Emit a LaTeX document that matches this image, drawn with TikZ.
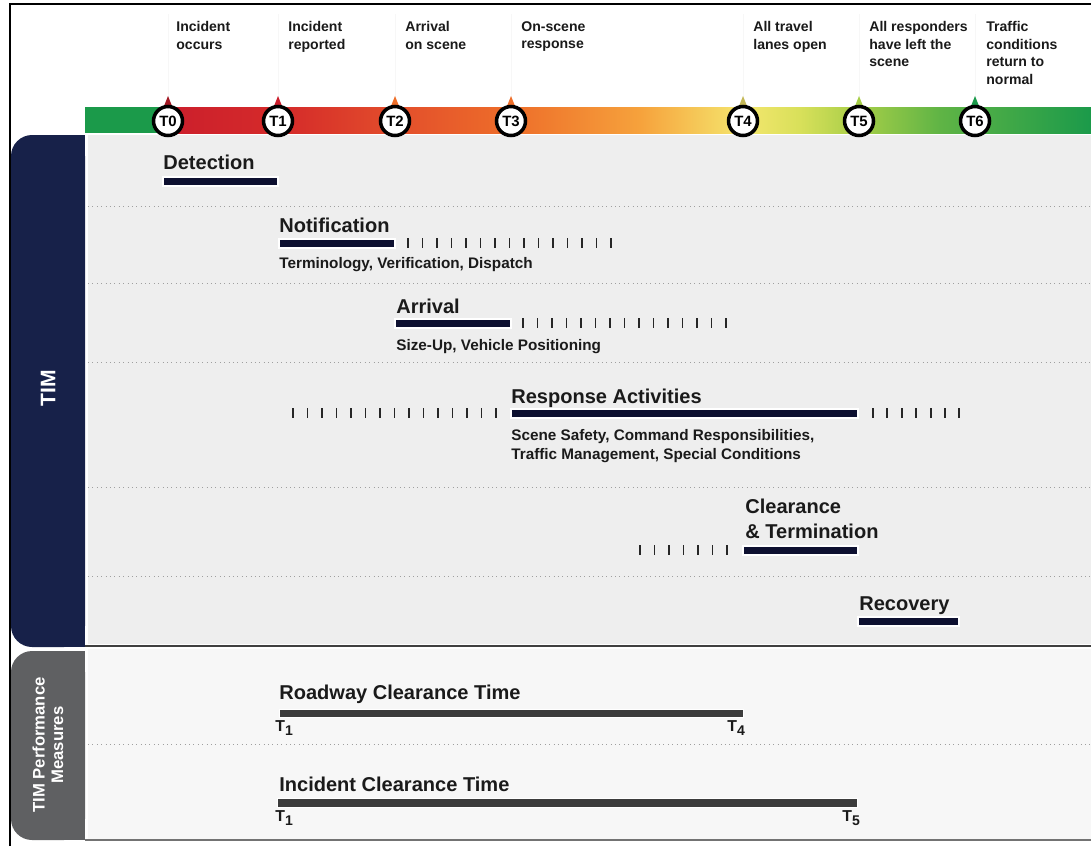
\documentclass[tikz,border=0pt]{standalone}
\usepackage{fontspec}
\setmainfont{Liberation Sans}

\definecolor{timnavy}{HTML}{172149}
\definecolor{barnavy}{HTML}{0D1030}
\definecolor{panelgray}{HTML}{EEEEEE}
\definecolor{lowpanel}{HTML}{F7F7F7}
\definecolor{tabgray}{HTML}{5F6062}
\definecolor{measgray}{HTML}{3C3C3C}
\definecolor{inkblack}{HTML}{1A1A1A}
\definecolor{cgreen}{HTML}{1B9A4A}
\definecolor{cred}{HTML}{CB1E2C}
\definecolor{cred2}{HTML}{D52B2A}
\definecolor{cred3}{HTML}{E34F2B}
\definecolor{corange}{HTML}{EE6F2A}
\definecolor{clorange}{HTML}{F6A23C}
\definecolor{cyellow}{HTML}{F5E66E}
\definecolor{cyelgreen}{HTML}{D8E05A}
\definecolor{clime}{HTML}{A6CE48}
\definecolor{cmidgreen}{HTML}{5FB445}

\tikzset{
  toplabel/.style={anchor=north west, align=left, inner sep=0pt, text=inkblack,
    font=\fontsize{8}{10}\selectfont\bfseries},
  phasename/.style={anchor=base west, inner sep=0pt, text=inkblack,
    font=\fontsize{11.4}{13}\selectfont\bfseries},
  phasenote/.style={anchor=base west, inner sep=0pt, text=inkblack,
    font=\fontsize{8.7}{10}\selectfont\bfseries},
  phasebar/.style={fill=barnavy, draw=white, line width=0.6pt},
  measbar/.style={fill=measgray, draw=white, line width=0.5pt},
  ticmark/.style={line width=1.1pt, black!85},
  tmark/.style={circle, draw=black, line width=2pt, fill=white, minimum size=16.5pt,
    inner sep=0pt, font=\fontsize{8.5}{9}\selectfont\bfseries},
  rowline/.style={gray!75, dotted, line width=0.5pt},
  guide/.style={black!3, line width=0.4pt},
  tsub/.style={anchor=north west, inner sep=0pt, text=inkblack,
    font=\fontsize{9}{10}\selectfont\bfseries},
  tablabel/.style={rotate=90, text=white, align=center, inner sep=0pt},
}

\newcommand{\tsubs}[1]{T\raisebox{-0.45ex}{\fontsize{8}{8}\selectfont #1}}

\begin{document}
\begin{tikzpicture}[x=0.02cm,y=-0.02cm]
\useasboundingbox (0,0) rectangle (1091,846);

% frame
\draw[line width=0.9pt] (10,846) -- (10,4) -- (1091,4);

% faint guides from the labels down to the timeline
\foreach \x in {168,278,395,511,743,859,975}
  \draw[guide] (\x,14) -- (\x,97);

% timeline colour bar
\fill[cgreen] (85,107) rectangle (160,133);
\shade[left color=cred, right color=cred2] (160,107) rectangle (285,133);
\shade[left color=cred2, right color=cred3] (285,107) rectangle (400,133);
\shade[left color=cred3, right color=corange] (400,107) rectangle (515,133);
\shade[left color=corange, right color=clorange] (515,107) rectangle (640,133);
\shade[left color=clorange, right color=cyellow] (640,107) rectangle (743,133);
\shade[left color=cyellow, right color=cyelgreen] (743,107) rectangle (800,133);
\shade[left color=cyelgreen, right color=clime] (800,107) rectangle (859,133);
\shade[left color=clime, right color=cmidgreen] (859,107) rectangle (940,133);
\shade[left color=cmidgreen, right color=cgreen] (940,107) rectangle (1091,133);

% small pointers above the marks
\foreach \x/\c in {168/cred!80!black,278/cred,395/corange,511/corange,743/cyellow!80!black,859/clime,975/cgreen}
  \fill[\c] (\x-4,106) -- (\x,96) -- (\x+4,106) -- cycle;

% event labels
\node[toplabel] (lab0) at (176,21) {Incident\\occurs};
\node[toplabel] (lab1) at (288,21) {Incident\\reported};
\node[toplabel] (lab2) at (405,21) {Arrival\\on scene};
\node[toplabel] (lab3) at (521,21) {On-scene\\response};
\node[toplabel] (lab4) at (753,21) {All travel\\lanes open};
\node[toplabel] (lab5) at (869,21) {All responders\\have left the\\scene};
\node[toplabel] (lab6) at (986,21) {Traffic\\conditions\\return to\\normal};

% panels
\fill[panelgray] (88,135) rectangle (1091,644);
\fill[lowpanel] (88,649) rectangle (1091,839);
\foreach \y in {206,283,362,487,576}
  \draw[rowline] (88,\y) -- (1091,\y);
\draw[rowline] (88,744) -- (1091,744);
\draw[line width=1.1pt, black!75] (85,646) -- (1091,646);
\draw[line width=1.4pt, black!55] (85,840) -- (1091,840);

% side tabs
\fill[timnavy, rounded corners=12pt] (11,135) rectangle (85,647);
\fill[timnavy] (60,135) rectangle (85,647);
\fill[tabgray, rounded corners=12pt] (11,651) rectangle (85,840);
\fill[tabgray] (60,651) rectangle (85,840);
\node[tablabel, font=\fontsize{12}{14}\selectfont\bfseries] (tim) at (48,388) {TIM};
\node[tablabel, font=\fontsize{9.5}{10.5}\selectfont\bfseries] (perf) at (48,745)
  {TIM Performance\\Measures};

% time marks
\node[tmark] (t0) at (168,121) {T0};
\node[tmark] (t1) at (278,121) {T1};
\node[tmark] (t2) at (395,121) {T2};
\node[tmark] (t3) at (511,121) {T3};
\node[tmark] (t4) at (743,121) {T4};
\node[tmark] (t5) at (859,121) {T5};
\node[tmark] (t6) at (975,121) {T6};

% Detection
\node[phasename] (detect) at (163,169) {Detection};
\fill[phasebar] (163,177) rectangle (278,186);

% Notification
\node[phasename] (notify) at (279,232) {Notification};
\fill[phasebar] (279,239) rectangle (395,248);
\foreach \i in {0,...,14}
  \draw[ticmark] ({408+14.5*\i},238) -- ++(0,10);
\node[phasenote] (notifynote) at (279,268) {Terminology, Verification, Dispatch};

% Arrival
\node[phasename] (arrive) at (396,313) {Arrival};
\fill[phasebar] (395,319) rectangle (511,328);
\foreach \i in {0,...,14}
  \draw[ticmark] ({523+14.5*\i},318) -- ++(0,10);
\node[phasenote] (arrivenote) at (396,350) {Size-Up, Vehicle Positioning};

% Response Activities
\node[phasename] (respond) at (511,403) {Response Activities};
\fill[phasebar] (511,409) rectangle (858,418);
\foreach \i in {0,...,14}
  \draw[ticmark] ({293+14.5*\i},408) -- ++(0,10);
\foreach \i in {0,...,6}
  \draw[ticmark] ({873+14.4*\i},408) -- ++(0,10);
\node[phasenote] (respnote1) at (511,440) {Scene Safety, Command Responsibilities,};
\node[phasenote] (respnote2) at (511,459) {Traffic Management, Special Conditions};

% Clearance & Termination
\node[phasename] (clear1) at (745,513) {Clearance};
\node[phasename] (clear2) at (745,538) {\& Termination};
\fill[phasebar] (743,546) rectangle (858,555);
\foreach \i in {0,...,6}
  \draw[ticmark] ({640+14.5*\i},545) -- ++(0,10);

% Recovery
\node[phasename] (recover) at (859,610) {Recovery};
\fill[phasebar] (858,617) rectangle (959,626);

% performance measures
\node[phasename] (rct) at (279,699) {Roadway Clearance Time};
\fill[measbar] (279,709) rectangle (743,717);
\node[tsub] (rcta) at (275,720) {\tsubs{1}};
\node[tsub] (rctb) at (727,720) {\tsubs{4}};

\node[phasename] (ict) at (279,791) {Incident Clearance Time};
\fill[measbar] (277,798) rectangle (857,807);
\node[tsub] (icta) at (275,810) {\tsubs{1}};
\node[tsub] (ictb) at (842,810) {\tsubs{5}};

\end{tikzpicture}
\end{document}
